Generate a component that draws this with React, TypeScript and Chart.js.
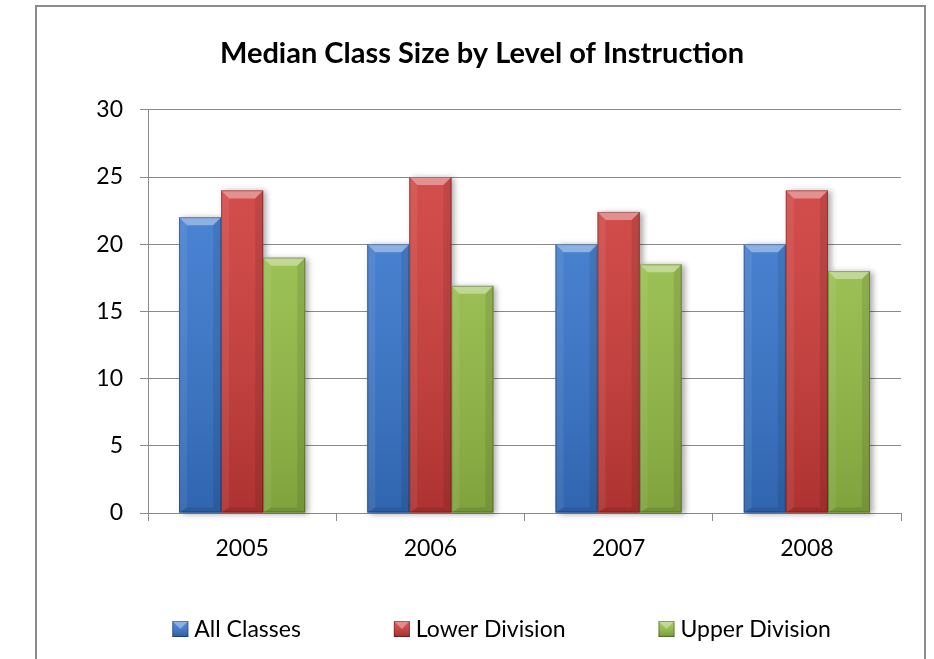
import React, { useEffect, useRef } from "react";
import { Chart, registerables } from "chart.js";

Chart.register(...registerables);

// ---- data ----
const categories = ["2005", "2006", "2007", "2008"];
const allClasses = [22, 20, 20, 20];
const lowerDivision = [24, 25, 22.4, 24];
const upperDivision = [19, 16.9, 18.5, 18];
const seriesNames = ["All Classes", "Lower Division", "Upper Division"];
const seriesColors = ["#3a7bd5", "#d33d3b", "#9cc64a"];
const chartTitle = "Median Class Size by Level of Instruction";
const yMin = 0;
const yMax = 30;
const yStep = 5;

const FONT = "Lato, 'Open Sans', sans-serif";
const GRID = "#8a8a8a";

function poly(ctx: CanvasRenderingContext2D, pts: number[][], fill: string) {
  ctx.beginPath();
  ctx.moveTo(pts[0][0], pts[0][1]);
  for (let i = 1; i < pts.length; i++) ctx.lineTo(pts[i][0], pts[i][1]);
  ctx.closePath();
  ctx.fillStyle = fill;
  ctx.fill();
}

function barRect(el: any) {
  const { x, y, base, width } = el.getProps(["x", "y", "base", "width"], true);
  const L = x - width / 2;
  const T = Math.min(y, base);
  const H = Math.abs(base - y);
  return { L, T, W: width, H, R: L + width, B: T + H };
}

const bevelPlugin = {
  id: "bevel",
  beforeDatasetsDraw(chart: any) {
    const ctx = chart.ctx as CanvasRenderingContext2D;
    chart.data.datasets.forEach((ds: any, di: number) => {
      const meta = chart.getDatasetMeta(di);
      meta.data.forEach((el: any) => {
        const r = barRect(el);
        ctx.save();
        ctx.shadowColor = "rgba(0,0,0,0.35)";
        ctx.shadowBlur = 6;
        ctx.shadowOffsetX = 3;
        ctx.shadowOffsetY = 1;
        ctx.fillStyle = ds.backgroundColor;
        ctx.fillRect(r.L, r.T, r.W, r.H);
        ctx.restore();
      });
    });
  },
  afterDatasetsDraw(chart: any) {
    const ctx = chart.ctx as CanvasRenderingContext2D;
    const area = chart.chartArea;
    const g = ctx.createLinearGradient(0, area.top, 0, area.bottom);
    g.addColorStop(0, "rgba(255,255,255,0.10)");
    g.addColorStop(1, "rgba(0,0,0,0.18)");
    chart.data.datasets.forEach((ds: any, di: number) => {
      const meta = chart.getDatasetMeta(di);
      meta.data.forEach((el: any) => {
        const { L, T, W, H, R, B } = barRect(el);
        const b = Math.min(8, H / 2);
        const bb = Math.min(5, H / 2);
        ctx.save();
        ctx.fillStyle = g;
        ctx.fillRect(L, T, W, H);
        poly(ctx, [[L, T], [R, T], [R - b, T + b], [L + b, T + b]], "rgba(255,255,255,0.38)");
        poly(ctx, [[L, T], [L + b, T + b], [L + b, B - bb], [L, B]], "rgba(255,255,255,0.07)");
        poly(ctx, [[R, T], [R - b, T + b], [R - b, B - bb], [R, B]], "rgba(0,0,0,0.09)");
        poly(ctx, [[L, B], [L + b, B - bb], [R - b, B - bb], [R, B]], "rgba(0,0,0,0.10)");
        ctx.strokeStyle = "rgba(0,0,0,0.25)";
        ctx.lineWidth = 1;
        ctx.strokeRect(L + 0.5, T + 0.5, W - 1, H - 1);
        ctx.restore();
      });
    });
  },
};

const legendPlugin = {
  id: "customLegend",
  afterDraw(chart: any) {
    const ctx = chart.ctx as CanvasRenderingContext2D;
    ctx.save();
    ctx.font = `23px ${FONT}`;
    const box = 16;
    const gap = 6;
    const spacing = 93;
    const widths = seriesNames.map((n) => box + gap + ctx.measureText(n).width);
    const total = widths.reduce((a, b) => a + b, 0) + spacing * (seriesNames.length - 1);
    const cx = chart.width * 0.537;
    const cy = 629;
    let x = cx - total / 2;
    seriesNames.forEach((name, i) => {
      const top = cy - box / 2;
      ctx.fillStyle = seriesColors[i];
      ctx.fillRect(x, top, box, box);
      const g = ctx.createLinearGradient(0, top, 0, top + box);
      g.addColorStop(0, "rgba(255,255,255,0.1)");
      g.addColorStop(1, "rgba(0,0,0,0.25)");
      ctx.fillStyle = g;
      ctx.fillRect(x, top, box, box);
      poly(ctx, [[x, top], [x + box, top], [x + box / 2, top + box / 2]], "rgba(255,255,255,0.35)");
      ctx.strokeStyle = "rgba(0,0,0,0.3)";
      ctx.lineWidth = 1;
      ctx.strokeRect(x + 0.5, top + 0.5, box - 1, box - 1);
      ctx.fillStyle = "#000";
      ctx.textBaseline = "middle";
      ctx.textAlign = "left";
      ctx.fillText(name, x + box + gap, cy + 1);
      x += widths[i] + spacing;
    });
    ctx.restore();
  },
};

export default function App() {
  const canvasRef = useRef<HTMLCanvasElement | null>(null);

  useEffect(() => {
    const canvas = canvasRef.current;
    if (!canvas) return;
    const chart = new Chart(canvas, {
      type: "bar",
      data: {
        labels: categories,
        datasets: [
          { label: seriesNames[0], data: allClasses, backgroundColor: seriesColors[0], borderWidth: 0 },
          { label: seriesNames[1], data: lowerDivision, backgroundColor: seriesColors[1], borderWidth: 0 },
          { label: seriesNames[2], data: upperDivision, backgroundColor: seriesColors[2], borderWidth: 0 },
        ],
      },
      options: {
        responsive: false,
        animation: false,
        devicePixelRatio: 1,
        datasets: { bar: { categoryPercentage: 0.67, barPercentage: 1.0 } },
        layout: { padding: { left: 63, right: 33, top: 0, bottom: 96 } },
        plugins: {
          legend: { display: false },
          tooltip: { enabled: false },
          title: {
            display: true,
            text: chartTitle,
            color: "#000",
            font: { family: FONT, size: 29, weight: "bold" },
            padding: { top: 36, bottom: 39 },
          },
        },
        scales: {
          x: {
            grid: {
              display: true,
              drawOnChartArea: false,
              drawTicks: true,
              tickLength: 8,
              color: GRID,
              offset: true,
            },
            border: { display: true, color: GRID, width: 1 },
            ticks: { color: "#000", font: { family: FONT, size: 23 }, padding: 14 },
            afterFit: (s: any) => {
              s.height = 50;
            },
          },
          y: {
            min: yMin,
            max: yMax,
            ticks: { stepSize: yStep, color: "#000", font: { family: FONT, size: 23 }, padding: 17 },
            grid: { color: GRID, tickLength: 8, drawTicks: true },
            border: { display: true, color: GRID, width: 1 },
            afterFit: (s: any) => {
              s.width = 85;
            },
          },
        },
      },
      plugins: [bevelPlugin, legendPlugin],
    } as any);
    return () => chart.destroy();
  }, []);

  return (
    <div style={{ position: "absolute", left: 0, top: 0, width: 934, height: 659, overflow: "hidden", background: "#fff" }}>
      <canvas ref={canvasRef} width={934} height={659} style={{ position: "absolute", left: 0, top: 0, width: 934, height: 659 }} />
      <div
        style={{
          position: "absolute",
          left: 35,
          top: 5,
          width: 891,
          height: 700,
          border: "2px solid #8c8c8c",
          boxSizing: "border-box",
          pointerEvents: "none",
        }}
      />
    </div>
  );
}
